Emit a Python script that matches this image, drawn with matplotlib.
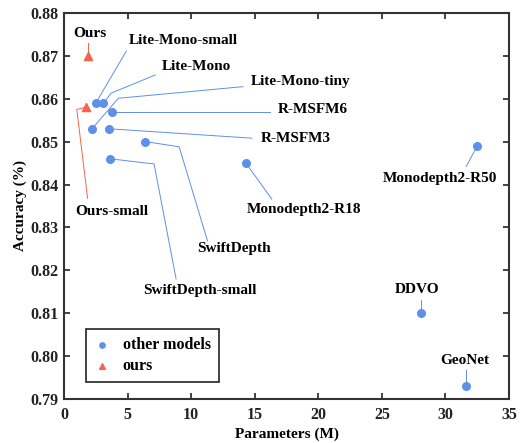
import matplotlib.pyplot as plt

plt.rcParams['font.family'] = ['Liberation Serif', 'DejaVu Serif']
plt.rcParams['font.weight'] = 'bold'

# other models
names = ["Lite-Mono-small", "Lite-Mono", "Lite-Mono-tiny", "R-MSFM6", "R-MSFM3",
         "SwiftDepth", "SwiftDepth-small", "Monodepth2-R18", "Monodepth2-R50",
         "DDVO", "GeoNet"]
params = [2.5, 3.1, 2.2, 3.8, 3.5, 6.4, 3.6, 14.3, 32.5, 28.1, 31.6]
acc = [0.859, 0.859, 0.853, 0.857, 0.853, 0.850, 0.846, 0.845, 0.849, 0.810, 0.793]

# ours
our_names = ["Ours", "Ours-small"]
our_params = [1.9, 1.7]
our_acc = [0.870, 0.858]

# leader lines (bend points) and label centres
layout = {
    "Lite-Mono-small": ([(4.9, 0.8711)], (9.4, 0.8735)),
    "Lite-Mono": ([(3.7, 0.8613), (7.16, 0.8655)], (10.4, 0.8675)),
    "Lite-Mono-tiny": ([(4.27, 0.8601), (14.06, 0.8628)], (18.6, 0.8641)),
    "R-MSFM6": ([(16.2, 0.857)], (19.6, 0.8574)),
    "R-MSFM3": ([(14.77, 0.8508)], (18.2, 0.8508)),
    "SwiftDepth": ([(9.05, 0.8488), (11.28, 0.8269)], (13.4, 0.8250)),
    "SwiftDepth-small": ([(7.08, 0.8448), (8.81, 0.8180)], (10.7, 0.8154)),
    "Monodepth2-R18": ([(16.34, 0.8366)], (18.9, 0.8341)),
    "Monodepth2-R50": ([(31.63, 0.8442)], (29.6, 0.8415)),
    "DDVO": ([(28.1, 0.8131)], (27.8, 0.8156)),
    "GeoNet": ([(31.6, 0.7968)], (31.5, 0.7990)),
    "Ours": ([(1.9, 0.8730)], (2.0, 0.8753)),
    "Ours-small": ([(1.0, 0.8575), (1.85, 0.8368)], (3.74, 0.8338)),
}

blue = "#5E8FEA"
red = "#F5644A"

fig = plt.figure(figsize=(5.21, 4.43), dpi=100)
ax = fig.add_axes([0.123, 0.099, 0.854, 0.872])

def leader(name, x, y, color):
    bends, (tx, ty) = layout[name]
    xs = [x] + [b[0] for b in bends]
    ys = [y] + [b[1] for b in bends]
    ax.plot(xs, ys, color=color, lw=0.7, zorder=1)
    ax.text(tx, ty, name, ha='center', va='center', fontsize=11, fontweight='bold')

for n, x, y in zip(names, params, acc):
    leader(n, x, y, blue)
for n, x, y in zip(our_names, our_params, our_acc):
    leader(n, x, y, red)

ax.scatter(params, acc, s=30, color=blue, zorder=3, label="other models")
ax.scatter(our_params, our_acc, s=34, marker='^', color=red, zorder=3, label="ours")

ax.set_xlim(0, 35)
ax.set_ylim(0.79, 0.88)
ax.set_xticks(range(0, 36, 5))
ax.set_yticks([0.79 + 0.01 * i for i in range(10)])
ax.set_yticklabels([f"{0.79 + 0.01 * i:.2f}" for i in range(10)])
ax.tick_params(direction='in', top=True, right=True, length=4, width=1.2,
               labelsize=11.5, colors='#222222', pad=4)
ax.tick_params(axis='x', pad=6)
for s in ax.spines.values():
    s.set_linewidth(1.5)
    s.set_color('#333333')
for lab in ax.get_xticklabels() + ax.get_yticklabels():
    lab.set_fontweight('bold')
    lab.set_color('#222222')

ax.set_xlabel("Parameters (M)", fontsize=11, fontweight='bold', labelpad=3)
ax.set_ylabel("Accuracy (%)", fontsize=11, fontweight='bold', labelpad=2)

leg = ax.legend(loc='lower left', bbox_to_anchor=(0.049, 0.045), borderaxespad=0,
                fontsize=11.5, fancybox=False, edgecolor='#222222', framealpha=1,
                markerscale=0.7, handlelength=1.0, handletextpad=0.8,
                borderpad=0.5, labelspacing=0.3)
leg.get_frame().set_linewidth(1.2)

fig.savefig("out.png", dpi=100)
